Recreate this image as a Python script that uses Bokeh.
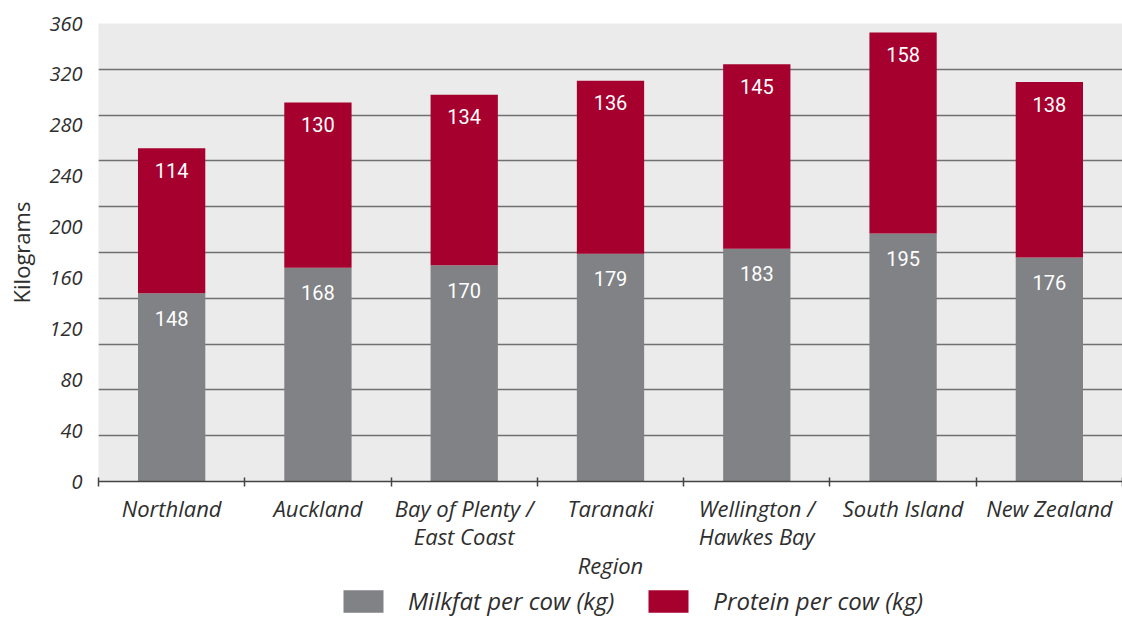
from bokeh.plotting import figure
from bokeh.layouts import column
from bokeh.models import (Range1d, FixedTicker, Legend, LegendItem, ColumnDataSource)
from bokeh.core.properties import value
from bokeh.embed import file_html
from bokeh.resources import INLINE

# Per-cow production by region (kg)
regions = ["Northland", "Auckland", "Bay of Plenty /\nEast Coast", "Taranaki",
           "Wellington /\nHawkes Bay", "South Island", "New Zealand"]
milkfat = [148, 168, 170, 179, 183, 195, 176]
protein = [114, 130, 134, 136, 145, 158, 138]
series_names = ["Milkfat per cow (kg)", "Protein per cow (kg)"]

y_ticks = [0, 40, 80, 120, 160, 200, 240, 280, 320, 360]
grid_ticks = [0, 36, 72, 108, 144, 180, 216, 252, 288, 324, 360]

GREY = "#808285"
RED = "#a6002f"
TEXT = "#2e2e2e"
AXIS_FONT = "Open Sans"

n = len(regions)
centers = [i + 0.5 for i in range(n)]
bounds = [float(i) for i in range(n + 1)]
totals = [m + p for m, p in zip(milkfat, protein)]

src = ColumnDataSource(dict(
    x=centers, milkfat=milkfat, protein=protein, total=totals,
    mf_lbl=[str(v) for v in milkfat], pr_lbl=[str(v) for v in protein],
))

p = figure(width=1122, height=583, x_range=Range1d(0, n), y_range=Range1d(0, 360),
           output_backend="svg", toolbar_location=None,
           min_border_left=98, min_border_right=0, min_border_top=23,
           min_border_bottom=102)
p.background_fill_color = "#ebebeb"
p.border_fill_color = "white"
p.outline_line_color = None

p.vbar(x="x", bottom=0, top="milkfat", width=0.46, source=src,
       fill_color=GREY, line_color=None)
p.vbar(x="x", bottom="milkfat", top="total", width=0.46, source=src,
       fill_color=RED, line_color=None)

label_style = dict(text_align="center", text_baseline="middle", text_color="white",
                   text_font=value("Roboto"), text_font_size="20px")
p.text(x="x", y="milkfat", text="mf_lbl", source=src, y_offset=25, **label_style)
p.text(x="x", y="total", text="pr_lbl", source=src, y_offset=22, **label_style)

# gridlines
p.xgrid.visible = False
p.ygrid.ticker = FixedTicker(ticks=grid_ticks)
p.ygrid.grid_line_color = "#707070"
p.ygrid.grid_line_width = 1.5

# y axis
ya = p.yaxis[0]
ya.ticker = FixedTicker(ticks=y_ticks)
ya.axis_line_color = None
ya.major_tick_line_color = None
ya.major_tick_in = 0
ya.major_tick_out = 0
ya.minor_tick_line_color = None
ya.major_label_standoff = 16
ya.major_label_text_font = AXIS_FONT
ya.major_label_text_font_style = "italic"
ya.major_label_text_font_size = "20px"
ya.major_label_text_color = TEXT
ya.axis_label = "Kilograms"
ya.axis_label_text_font = AXIS_FONT
ya.axis_label_text_font_style = "normal"
ya.axis_label_text_font_size = "22px"
ya.axis_label_text_color = TEXT
ya.axis_label_standoff = 10

# x axis: names under bars, ticks between them
xa = p.xaxis[0]
xa.ticker = FixedTicker(ticks=centers, minor_ticks=bounds)
xa.major_label_overrides = {c: r for c, r in zip(centers, regions)}
xa.axis_line_color = "#444444"
xa.axis_line_width = 1.5
xa.major_tick_line_color = None
xa.major_tick_in = 0
xa.major_tick_out = 0
xa.minor_tick_line_color = "#444444"
xa.minor_tick_line_width = 1.5
xa.minor_tick_in = 4
xa.minor_tick_out = 5
xa.major_label_standoff = 6
xa.major_label_text_font = AXIS_FONT
xa.major_label_text_font_style = "italic"
xa.major_label_text_font_size = "22px"
xa.major_label_text_line_height = 0.95
xa.major_label_text_color = TEXT
xa.axis_label = "Region"
xa.axis_label_text_font = AXIS_FONT
xa.axis_label_text_font_style = "italic"
xa.axis_label_text_font_size = "22px"
xa.axis_label_text_color = TEXT
xa.axis_label_standoff = -4

# legend strip under the chart (swatch renderers are hidden, only their key shows)
leg = figure(width=1122, height=36, x_range=Range1d(0, 1), y_range=Range1d(0, 1),
             output_backend="svg", toolbar_location=None,
             x_axis_location=None, y_axis_location=None, min_border=0)
leg.grid.visible = False
leg.outline_line_color = None
leg.background_fill_color = "white"
sw_mf = leg.vbar(x="x", top="milkfat", width=0.5, source=src,
                 fill_color=GREY, line_color=None, visible=False)
sw_pr = leg.vbar(x="x", top="protein", width=0.5, source=src,
                 fill_color=RED, line_color=None, visible=False)
legend = Legend(items=[LegendItem(label=series_names[0], renderers=[sw_mf]),
                       LegendItem(label=series_names[1], renderers=[sw_pr])],
                orientation="horizontal", location=(240, 2),
                glyph_width=50, glyph_height=28, label_standoff=20, spacing=29,
                padding=1, margin=0, border_line_color=None,
                background_fill_alpha=0, click_policy="none",
                label_text_font=AXIS_FONT, label_text_font_style="italic",
                label_text_font_size="24px", label_text_color=TEXT)
leg.add_layout(legend, "center")

page = column(p, leg, spacing=0)
open("out.html", "w").write(file_html(page, INLINE))
